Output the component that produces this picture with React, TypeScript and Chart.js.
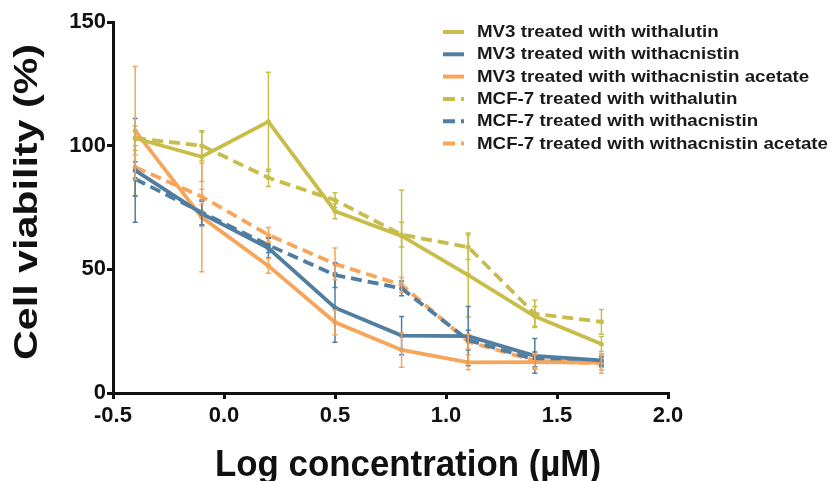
import React, { useEffect, useRef } from "react";
import { Chart, registerables } from "chart.js";

Chart.register(...registerables);

const logConc = [-0.4, -0.1, 0.2, 0.5, 0.8, 1.1, 1.4, 1.7];

const mv3Withalutin = [103, 95.5, 109.7, 73.5, 63.5, 47.7, 31, 19.8];
const mv3WithalutinErr = [5, 10, 20, 3, 18.5, 17, 4, 3];
const mv3Withacnistin = [90, 72.5, 58.6, 34.5, 23.2, 23, 15, 13.2];
const mv3WithacnistinErr = [21, 5, 4, 14, 7.7, 12, 7, 2];
const mv3Acetate = [106, 71, 51.4, 28.6, 17.4, 12.4, 12.5, 12.3];
const mv3AcetateErr = [26, 22, 3, 5, 7, 3, 3, 3];
const mcf7Withalutin = [103, 100, 87, 78, 64, 59, 32, 28.8];
const mcf7WithalutinErr = [3, 6, 3.5, 3, 5, 5, 5.5, 5];
const mcf7Withacnistin = [86.5, 73, 59.8, 47.7, 42.3, 21.4, 13.6, 12.6];
const mcf7WithacnistinErr = [7, 5, 3, 5, 3, 4, 3, 2];
const mcf7Acetate = [91.3, 79.4, 63.9, 52.2, 43.7, 20.8, 13, 12];
const mcf7AcetateErr = [5, 3, 3, 6.4, 3, 3, 3, 4];

const seriesLabels = [
  "MV3 treated with withalutin",
  "MV3 treated with withacnistin",
  "MV3 treated with withacnistin acetate",
  "MCF-7 treated with withalutin",
  "MCF-7 treated with withacnistin",
  "MCF-7 treated with withacnistin acetate",
];

const xTitle = "Log concentration (\u00b5M)";
const yTitle = "Cell viability (%)";

const xTicks = [-0.5, 0.0, 0.5, 1.0, 1.5, 2.0];
const yTicks = [0, 50, 100, 150];

const OLIVE = "#C8BD4A";
const BLUE = "#507DA0";
const ORANGE = "#F6A55A";
const FONT = "'Liberation Sans', Arial, sans-serif";

const errorBarPlugin = {
  id: "errorBars",
  afterDatasetsDraw(chart: any) {
    const ctx = chart.ctx;
    const yScale = chart.scales.y;
    chart.data.datasets.forEach((ds: any, i: number) => {
      const meta = chart.getDatasetMeta(i);
      const errs: number[] = ds.errors || [];
      ctx.save();
      ctx.strokeStyle = ds.borderColor;
      ctx.lineWidth = 1.5;
      ctx.setLineDash([]);
      meta.data.forEach((pt: any, j: number) => {
        const v = ds.data[j].y;
        const e = errs[j] || 0;
        const x = pt.x;
        const yt = yScale.getPixelForValue(v + e);
        const yb = yScale.getPixelForValue(v - e);
        ctx.beginPath();
        ctx.moveTo(x, yt);
        ctx.lineTo(x, yb);
        ctx.moveTo(x - 2.5, yt);
        ctx.lineTo(x + 2.5, yt);
        ctx.moveTo(x - 2.5, yb);
        ctx.lineTo(x + 2.5, yb);
        ctx.stroke();
      });
      ctx.restore();
    });
  },
};

function stretchedText(ctx: any, text: string, cx: number, cy: number, size: number, targetW: number, rot: number) {
  ctx.save();
  ctx.font = `bold ${size}px ${FONT}`;
  const w = ctx.measureText(text).width;
  ctx.translate(cx, cy);
  ctx.rotate(rot);
  ctx.scale(targetW / w, 1);
  ctx.textAlign = "center";
  ctx.textBaseline = "alphabetic";
  ctx.fillStyle = "#111";
  ctx.fillText(text, 0, 0);
  ctx.restore();
}

const titlesPlugin = {
  id: "titles",
  afterDraw(chart: any) {
    const ctx = chart.ctx;
    stretchedText(ctx, xTitle, 408, 476, 37, 386, 0);
    stretchedText(ctx, yTitle, 37, 202, 34, 316, -Math.PI / 2);
  },
};

const legendPlugin = {
  id: "customLegend",
  afterDraw(chart: any) {
    const ctx = chart.ctx;
    ctx.save();
    ctx.font = `bold 17px ${FONT}`;
    const longest = Math.max(...chart.data.datasets.map((d: any) => ctx.measureText(d.label).width));
    const sx = 351 / longest;
    chart.data.datasets.forEach((ds: any, i: number) => {
      const y = 32 + i * 22.3;
      ctx.strokeStyle = ds.borderColor;
      ctx.lineWidth = 4;
      ctx.setLineDash(ds.borderDash && ds.borderDash.length ? [12, 6] : []);
      ctx.beginPath();
      ctx.moveTo(443, y);
      ctx.lineTo(464, y);
      ctx.stroke();
      ctx.setLineDash([]);
      ctx.save();
      ctx.fillStyle = "#1a1a1a";
      ctx.font = `bold 17px ${FONT}`;
      ctx.textBaseline = "middle";
      ctx.textAlign = "left";
      ctx.translate(477, y + 0.5);
      ctx.scale(sx, 1);
      ctx.fillText(ds.label, 0, 0);
      ctx.restore();
    });
    ctx.restore();
  },
};

function mk(label: string, vals: number[], errs: number[], color: string, dashed: boolean) {
  return {
    label,
    data: logConc.map((x, i) => ({ x, y: vals[i] })),
    errors: errs,
    borderColor: color,
    backgroundColor: color,
    borderWidth: 3.8,
    borderDash: dashed ? [11, 6] : [],
    pointRadius: 2.5,
    pointBorderWidth: 0,
    pointBackgroundColor: color,
    tension: 0,
    fill: false,
  };
}

export default function App() {
  const ref = useRef<HTMLCanvasElement | null>(null);
  useEffect(() => {
    document.body.style.margin = "0";
    const canvas = ref.current!;
    const chart = new Chart(canvas, {
      type: "line",
      data: {
        datasets: [
          mk(seriesLabels[0], mv3Withalutin, mv3WithalutinErr, OLIVE, false),
          mk(seriesLabels[1], mv3Withacnistin, mv3WithacnistinErr, BLUE, false),
          mk(seriesLabels[2], mv3Acetate, mv3AcetateErr, ORANGE, false),
          mk(seriesLabels[3], mcf7Withalutin, mcf7WithalutinErr, OLIVE, true),
          mk(seriesLabels[4], mcf7Withacnistin, mcf7WithacnistinErr, BLUE, true),
          mk(seriesLabels[5], mcf7Acetate, mcf7AcetateErr, ORANGE, true),
        ] as any,
      },
      options: {
        animation: false,
        responsive: false,
        devicePixelRatio: 1,
        layout: { padding: { top: 22, right: 162, left: 0, bottom: 0 } },
        plugins: { legend: { display: false }, tooltip: { enabled: false } },
        scales: {
          x: {
            type: "linear",
            min: -0.5,
            max: 2.0,
            afterBuildTicks: (s: any) => {
              s.ticks = xTicks.map((v) => ({ value: v }));
            },
            afterFit: (s: any) => {
              s.height = 88;
            },
            ticks: {
              color: "#111",
              font: { family: FONT, size: 22, weight: "bold" },
              padding: 4,
              callback: (v: any) => Number(v).toFixed(1),
            },
            grid: {
              display: true,
              drawOnChartArea: false,
              drawTicks: true,
              tickLength: 6,
              lineWidth: 3,
              color: "#111",
            },
            border: { display: true, width: 3, color: "#111" },
          },
          y: {
            type: "linear",
            min: 0,
            max: 150,
            afterBuildTicks: (s: any) => {
              s.ticks = yTicks.map((v) => ({ value: v }));
            },
            afterFit: (s: any) => {
              s.width = 113;
            },
            ticks: {
              color: "#111",
              font: { family: FONT, size: 22, weight: "bold" },
              padding: 1,
            },
            grid: {
              display: true,
              drawOnChartArea: false,
              drawTicks: true,
              tickLength: 6,
              lineWidth: 3,
              color: "#111",
            },
            border: { display: true, width: 3, color: "#111" },
          },
        },
      } as any,
      plugins: [errorBarPlugin, legendPlugin, titlesPlugin],
    });
    return () => chart.destroy();
  }, []);
  return (
    <div style={{ position: "absolute", left: 0, top: 0, width: 830, height: 481, background: "#fff" }}>
      <canvas ref={ref} width={830} height={481} style={{ width: 830, height: 481 }} />
    </div>
  );
}
